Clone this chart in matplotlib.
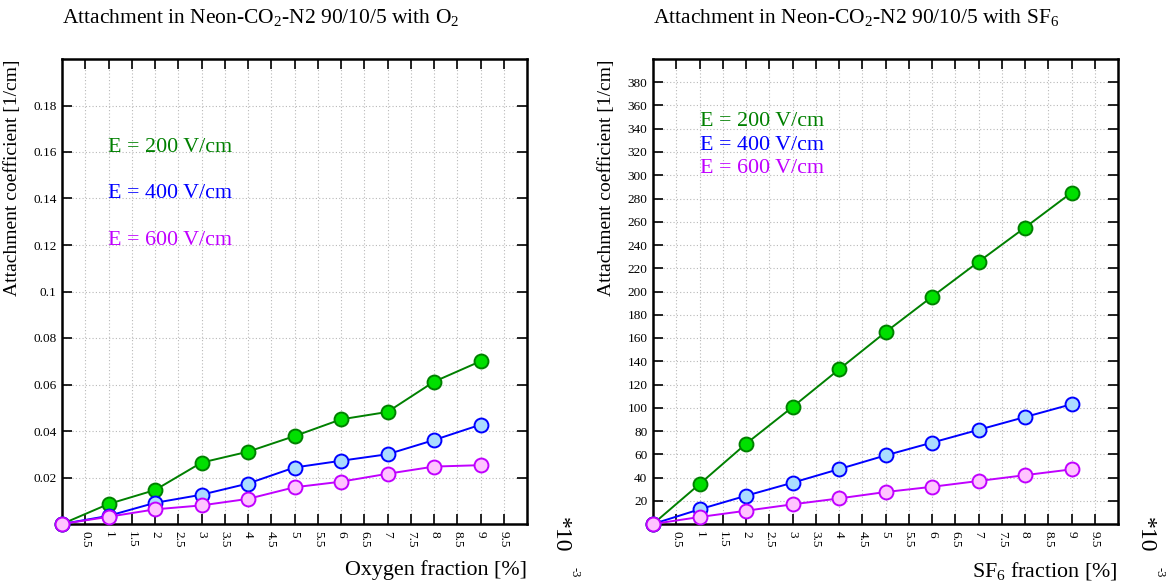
import matplotlib
matplotlib.use("Agg")
import matplotlib.pyplot as plt

plt.rcParams['font.family'] = ['Liberation Serif', 'DejaVu Serif']
plt.rcParams['mathtext.fontset'] = 'custom'
plt.rcParams['mathtext.rm'] = 'Liberation Serif'
plt.rcParams['mathtext.it'] = 'Liberation Serif'

# ---- data ----
fraction = [0, 1, 2, 3, 4, 5, 6, 7, 8, 9]

o2_e200 = [0, 0.0086, 0.0146, 0.0264, 0.0311, 0.0378, 0.0450, 0.0482, 0.0612, 0.0700]
o2_e400 = [0, 0.0035, 0.0091, 0.0126, 0.0174, 0.0243, 0.0272, 0.0300, 0.0361, 0.0427]
o2_e600 = [0, 0.0031, 0.0063, 0.0080, 0.0108, 0.0158, 0.0182, 0.0216, 0.0247, 0.0253]

sf6_e200 = [0, 34.3, 69.0, 100.6, 133.0, 165.0, 195.5, 225.5, 255.0, 285.0]
sf6_e400 = [0, 12.6, 24.3, 35.5, 47.2, 59.0, 70.0, 81.0, 92.0, 103.0]
sf6_e600 = [0, 6.0, 11.4, 16.9, 22.0, 27.5, 32.0, 37.0, 42.0, 47.0]

x_ticks = [0.5, 1, 1.5, 2, 2.5, 3, 3.5, 4, 4.5, 5, 5.5, 6, 6.5, 7, 7.5, 8, 8.5, 9, 9.5]
x_tick_labels = ['0.5', '1', '1.5', '2', '2.5', '3', '3.5', '4', '4.5', '5',
                 '5.5', '6', '6.5', '7', '7.5', '8', '8.5', '9', '9.5']
o2_y_ticks = [0.02, 0.04, 0.06, 0.08, 0.1, 0.12, 0.14, 0.16, 0.18]
o2_y_labels = ['0.02', '0.04', '0.06', '0.08', '0.1', '0.12', '0.14', '0.16', '0.18']
sf6_y_ticks = list(range(20, 400, 20))

field_labels = ['E = 200 V/cm', 'E = 400 V/cm', 'E = 600 V/cm']

# style per field value: line colour, marker face
styles = [
    ('#008000', '#00e000'),
    ('#0000ff', '#aadcff'),
    ('#c000ff', '#ffc4ff'),
]

W, H = 1171, 583
fig = plt.figure(figsize=(W / 100, H / 100), dpi=100)

ax1 = fig.add_axes([62 / W, 59 / H, 465 / W, 465 / H])
ax2 = fig.add_axes([653 / W, 59 / H, 465 / W, 465 / H])


def style_axes(ax, yticks, ylabels, ymax):
    ax.set_xlim(0, 10)
    ax.set_ylim(0, ymax)
    ax.set_xticks(x_ticks)
    ax.set_xticklabels(x_tick_labels, rotation=-90, fontsize=9.5)
    ax.set_yticks(yticks)
    ax.set_yticklabels(ylabels, fontsize=9.5)
    ax.tick_params(direction='in', length=7, width=1.2, top=True, right=True,
                   pad=4)
    ax.tick_params(axis='x', pad=5)
    for s in ax.spines.values():
        s.set_linewidth(1.8)
    ax.grid(True, linestyle=(0, (1, 2)), color='#b8b8b8', linewidth=0.8)
    ax.set_axisbelow(True)
    ax.set_ylabel('Attachment coefficient [1/cm]', fontsize=14, loc='top',
                  labelpad=9)


def draw_series(ax, series):
    for ys, (lc, fc) in zip(series, styles):
        ax.plot(fraction, ys, '-o', color=lc, lw=1.4, ms=10,
                markerfacecolor=fc, markeredgecolor=lc, markeredgewidth=1.4,
                clip_on=False, zorder=3)


# --- left: O2 ---
style_axes(ax1, o2_y_ticks, o2_y_labels, 0.2)
draw_series(ax1, [o2_e200, o2_e400, o2_e600])
ax1.set_xlabel('Oxygen fraction [%]', fontsize=15.8, loc='right', labelpad=9)
for i, txt in enumerate(field_labels):
    ax1.text(1.0, 0.162 - i * 0.02, txt, color=styles[i][0], fontsize=15.8,
             va='center', ha='left')
fig.text(62 / W, 1 - 17 / H, 'Attachment in Neon-CO$_2$-N2 90/10/5 with O$_2$',
         fontsize=15.5, ha='left', va='center')
fig.text(560 / W, 1 - 535 / H, '*10', rotation=-90, fontsize=17,
         ha='center', va='center')
fig.text(575 / W, 1 - 572 / H, '-3', rotation=-90, fontsize=9,
         ha='center', va='center')

# --- right: SF6 ---
style_axes(ax2, sf6_y_ticks, [str(v) for v in sf6_y_ticks], 400)
draw_series(ax2, [sf6_e200, sf6_e400, sf6_e600])
ax2.set_xlabel('SF$_6$ fraction [%]', fontsize=15.8, loc='right', labelpad=9)
for i, txt in enumerate(field_labels):
    ax2.text(1.0, 346 - i * 20, txt, color=styles[i][0], fontsize=15.8,
             va='center', ha='left')
fig.text(653 / W, 1 - 17 / H, 'Attachment in Neon-CO$_2$-N2 90/10/5 with SF$_6$',
         fontsize=15.5, ha='left', va='center')
fig.text(1145 / W, 1 - 535 / H, '*10', rotation=-90, fontsize=17,
         ha='center', va='center')
fig.text(1160 / W, 1 - 572 / H, '-3', rotation=-90, fontsize=9,
         ha='center', va='center')

fig.savefig('out.png', dpi=100)
